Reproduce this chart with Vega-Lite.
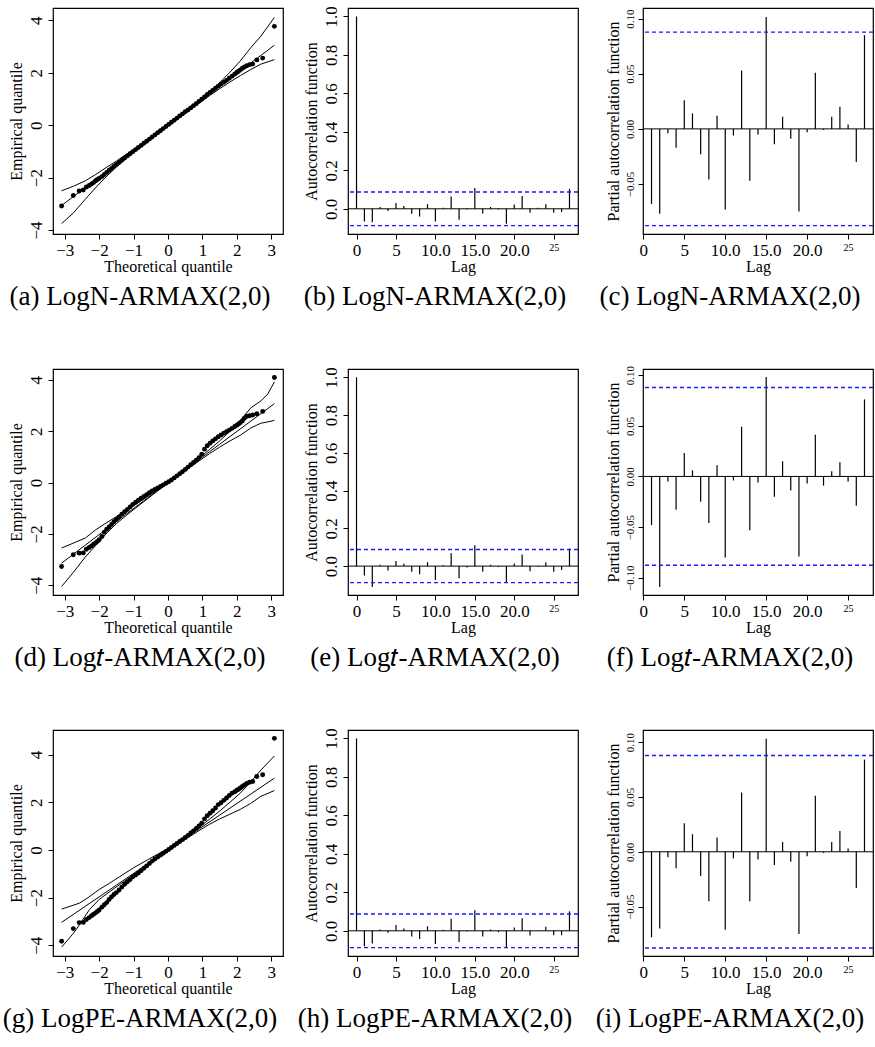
{
"$schema": "https://vega.github.io/schema/vega-lite/v6.json",
"padding": {"left": 2, "top": 5, "right": 0, "bottom": 0},
"background": "white",
"config": {
 "font": "Liberation Serif",
 "view": {"stroke": "black", "strokeWidth": 1.2},
 "axis": {"grid": false, "domain": false, "tickColor": "black", "labelColor": "black", "titleColor": "black", "labelFont": "Liberation Serif", "titleFont": "Liberation Serif", "labelFontSize": 17, "titleFontSize": 16, "titleFontWeight": "normal", "offset": 0, "tickSize": 5, "tickWidth": 1, "labelFlush": false, "labelOverlap": false, "labelPadding": 3},
 "axisY": {"labelAngle": -90, "labelAlign": "center", "labelBaseline": "bottom", "titlePadding": 3},
 "axisX": {"titlePadding": 0},
 "title": {"orient": "bottom", "fontSize": 27, "fontWeight": "normal", "font": "Liberation Serif", "color": "black", "offset": 10, "anchor": "middle", "dx": -28}
},
"datasets": {
 "ref": [{"k":"zero","v":0},{"k":"ci","v":0.0877},{"k":"ci","v":-0.0877}],
 "qq": [
{"p":"a","x":-3.09,"y":-3.08},{"p":"a","x":-2.75,"y":-2.68},{"p":"a","x":-2.58,"y":-2.51},{"p":"a","x":-2.46,"y":-2.47},{"p":"a","x":-2.37,"y":-2.36},{"p":"a","x":-2.29,"y":-2.30},{"p":"a","x":-2.22,"y":-2.24},{"p":"a","x":-2.16,"y":-2.19},{"p":"a","x":-2.1,"y":-2.12},{"p":"a","x":-2.05,"y":-2.07},
{"p":"a","x":-2.0,"y":-2.03},{"p":"a","x":-1.92,"y":-1.96},{"p":"a","x":-1.85,"y":-1.88},{"p":"a","x":-1.78,"y":-1.80},{"p":"a","x":-1.71,"y":-1.72},{"p":"a","x":-1.64,"y":-1.65},{"p":"a","x":-1.57,"y":-1.57},{"p":"a","x":-1.5,"y":-1.50},{"p":"a","x":-1.42,"y":-1.42},{"p":"a","x":-1.34,"y":-1.33},
{"p":"a","x":-1.26,"y":-1.25},{"p":"a","x":-1.18,"y":-1.17},{"p":"a","x":-1.1,"y":-1.09},{"p":"a","x":-1.02,"y":-1.01},{"p":"a","x":-0.94,"y":-0.93},{"p":"a","x":-0.86,"y":-0.85},{"p":"a","x":-0.78,"y":-0.77},{"p":"a","x":-0.7,"y":-0.69},{"p":"a","x":-0.62,"y":-0.61},{"p":"a","x":-0.54,"y":-0.53},
{"p":"a","x":-0.46,"y":-0.45},{"p":"a","x":-0.38,"y":-0.37},{"p":"a","x":-0.3,"y":-0.29},{"p":"a","x":-0.22,"y":-0.21},{"p":"a","x":-0.14,"y":-0.13},{"p":"a","x":-0.06,"y":-0.05},{"p":"a","x":0.02,"y":0.03},{"p":"a","x":0.1,"y":0.11},{"p":"a","x":0.18,"y":0.19},{"p":"a","x":0.26,"y":0.27},
{"p":"a","x":0.34,"y":0.35},{"p":"a","x":0.42,"y":0.43},{"p":"a","x":0.5,"y":0.51},{"p":"a","x":0.58,"y":0.58},{"p":"a","x":0.66,"y":0.66},{"p":"a","x":0.74,"y":0.74},{"p":"a","x":0.82,"y":0.82},{"p":"a","x":0.9,"y":0.91},{"p":"a","x":0.98,"y":0.99},{"p":"a","x":1.06,"y":1.08},
{"p":"a","x":1.14,"y":1.17},{"p":"a","x":1.22,"y":1.25},{"p":"a","x":1.3,"y":1.33},{"p":"a","x":1.38,"y":1.41},{"p":"a","x":1.46,"y":1.49},{"p":"a","x":1.54,"y":1.57},{"p":"a","x":1.62,"y":1.64},{"p":"a","x":1.7,"y":1.71},{"p":"a","x":1.78,"y":1.79},{"p":"a","x":1.86,"y":1.87},
{"p":"a","x":1.94,"y":1.95},{"p":"a","x":2.0,"y":2.01},{"p":"a","x":2.05,"y":2.06},{"p":"a","x":2.1,"y":2.11},{"p":"a","x":2.16,"y":2.17},{"p":"a","x":2.22,"y":2.22},{"p":"a","x":2.29,"y":2.27},{"p":"a","x":2.37,"y":2.31},{"p":"a","x":2.46,"y":2.33},{"p":"a","x":2.58,"y":2.49},
{"p":"a","x":2.75,"y":2.56},{"p":"a","x":3.09,"y":3.77},
{"p":"d","x":-3.09,"y":-3.27},{"p":"d","x":-2.75,"y":-2.81},{"p":"d","x":-2.58,"y":-2.75},{"p":"d","x":-2.46,"y":-2.74},{"p":"d","x":-2.37,"y":-2.60},{"p":"d","x":-2.29,"y":-2.53},{"p":"d","x":-2.22,"y":-2.47},{"p":"d","x":-2.16,"y":-2.40},{"p":"d","x":-2.1,"y":-2.35},{"p":"d","x":-2.05,"y":-2.29},
{"p":"d","x":-2.0,"y":-2.23},{"p":"d","x":-1.92,"y":-2.10},{"p":"d","x":-1.85,"y":-1.93},{"p":"d","x":-1.78,"y":-1.82},{"p":"d","x":-1.71,"y":-1.73},{"p":"d","x":-1.64,"y":-1.63},{"p":"d","x":-1.57,"y":-1.53},{"p":"d","x":-1.5,"y":-1.44},{"p":"d","x":-1.42,"y":-1.34},{"p":"d","x":-1.34,"y":-1.23},
{"p":"d","x":-1.26,"y":-1.14},{"p":"d","x":-1.18,"y":-1.05},{"p":"d","x":-1.1,"y":-0.95},{"p":"d","x":-1.02,"y":-0.85},{"p":"d","x":-0.94,"y":-0.77},{"p":"d","x":-0.86,"y":-0.69},{"p":"d","x":-0.78,"y":-0.61},{"p":"d","x":-0.7,"y":-0.54},{"p":"d","x":-0.62,"y":-0.47},{"p":"d","x":-0.54,"y":-0.40},
{"p":"d","x":-0.46,"y":-0.33},{"p":"d","x":-0.38,"y":-0.27},{"p":"d","x":-0.3,"y":-0.21},{"p":"d","x":-0.22,"y":-0.15},{"p":"d","x":-0.14,"y":-0.09},{"p":"d","x":-0.06,"y":-0.03},{"p":"d","x":0.02,"y":0.03},{"p":"d","x":0.1,"y":0.10},{"p":"d","x":0.18,"y":0.18},{"p":"d","x":0.26,"y":0.26},
{"p":"d","x":0.34,"y":0.34},{"p":"d","x":0.42,"y":0.42},{"p":"d","x":0.5,"y":0.51},{"p":"d","x":0.58,"y":0.60},{"p":"d","x":0.66,"y":0.69},{"p":"d","x":0.74,"y":0.78},{"p":"d","x":0.82,"y":0.87},{"p":"d","x":0.9,"y":0.97},{"p":"d","x":0.98,"y":1.10},{"p":"d","x":1.06,"y":1.30},
{"p":"d","x":1.14,"y":1.43},{"p":"d","x":1.22,"y":1.53},{"p":"d","x":1.3,"y":1.62},{"p":"d","x":1.38,"y":1.70},{"p":"d","x":1.46,"y":1.78},{"p":"d","x":1.54,"y":1.85},{"p":"d","x":1.62,"y":1.92},{"p":"d","x":1.7,"y":1.98},{"p":"d","x":1.78,"y":2.04},{"p":"d","x":1.86,"y":2.11},
{"p":"d","x":1.94,"y":2.18},{"p":"d","x":2.0,"y":2.23},{"p":"d","x":2.05,"y":2.28},{"p":"d","x":2.1,"y":2.33},{"p":"d","x":2.16,"y":2.40},{"p":"d","x":2.22,"y":2.50},{"p":"d","x":2.29,"y":2.58},{"p":"d","x":2.37,"y":2.60},{"p":"d","x":2.46,"y":2.63},{"p":"d","x":2.58,"y":2.68},
{"p":"d","x":2.75,"y":2.77},{"p":"d","x":3.09,"y":4.09},
{"p":"g","x":-3.09,"y":-3.83},{"p":"g","x":-2.75,"y":-3.30},{"p":"g","x":-2.58,"y":-3.05},{"p":"g","x":-2.46,"y":-3.04},{"p":"g","x":-2.37,"y":-2.92},{"p":"g","x":-2.29,"y":-2.84},{"p":"g","x":-2.22,"y":-2.76},{"p":"g","x":-2.16,"y":-2.70},{"p":"g","x":-2.1,"y":-2.64},{"p":"g","x":-2.05,"y":-2.58},
{"p":"g","x":-2.0,"y":-2.52},{"p":"g","x":-1.92,"y":-2.40},{"p":"g","x":-1.85,"y":-2.30},{"p":"g","x":-1.78,"y":-2.21},{"p":"g","x":-1.71,"y":-2.08},{"p":"g","x":-1.64,"y":-1.97},{"p":"g","x":-1.57,"y":-1.87},{"p":"g","x":-1.5,"y":-1.79},{"p":"g","x":-1.42,"y":-1.68},{"p":"g","x":-1.34,"y":-1.56},
{"p":"g","x":-1.26,"y":-1.44},{"p":"g","x":-1.18,"y":-1.34},{"p":"g","x":-1.1,"y":-1.24},{"p":"g","x":-1.02,"y":-1.13},{"p":"g","x":-0.94,"y":-1.05},{"p":"g","x":-0.86,"y":-0.97},{"p":"g","x":-0.78,"y":-0.87},{"p":"g","x":-0.7,"y":-0.77},{"p":"g","x":-0.62,"y":-0.67},{"p":"g","x":-0.54,"y":-0.57},
{"p":"g","x":-0.46,"y":-0.47},{"p":"g","x":-0.38,"y":-0.38},{"p":"g","x":-0.3,"y":-0.30},{"p":"g","x":-0.22,"y":-0.22},{"p":"g","x":-0.14,"y":-0.14},{"p":"g","x":-0.06,"y":-0.06},{"p":"g","x":0.02,"y":0.02},{"p":"g","x":0.1,"y":0.10},{"p":"g","x":0.18,"y":0.19},{"p":"g","x":0.26,"y":0.27},
{"p":"g","x":0.34,"y":0.35},{"p":"g","x":0.42,"y":0.43},{"p":"g","x":0.5,"y":0.52},{"p":"g","x":0.58,"y":0.61},{"p":"g","x":0.66,"y":0.71},{"p":"g","x":0.74,"y":0.80},{"p":"g","x":0.82,"y":0.90},{"p":"g","x":0.9,"y":1.00},{"p":"g","x":0.98,"y":1.12},{"p":"g","x":1.06,"y":1.30},
{"p":"g","x":1.14,"y":1.43},{"p":"g","x":1.22,"y":1.54},{"p":"g","x":1.3,"y":1.64},{"p":"g","x":1.38,"y":1.76},{"p":"g","x":1.46,"y":1.90},{"p":"g","x":1.54,"y":1.98},{"p":"g","x":1.62,"y":2.08},{"p":"g","x":1.7,"y":2.18},{"p":"g","x":1.78,"y":2.28},{"p":"g","x":1.86,"y":2.38},
{"p":"g","x":1.94,"y":2.44},{"p":"g","x":2.0,"y":2.50},{"p":"g","x":2.05,"y":2.54},{"p":"g","x":2.1,"y":2.60},{"p":"g","x":2.16,"y":2.66},{"p":"g","x":2.22,"y":2.73},{"p":"g","x":2.29,"y":2.79},{"p":"g","x":2.37,"y":2.84},{"p":"g","x":2.46,"y":2.87},{"p":"g","x":2.58,"y":3.08},
{"p":"g","x":2.75,"y":3.15},{"p":"g","x":3.09,"y":4.68}
 ],
 "env": [
{"p":"a","s":"u","x":-3.09,"y":-2.50},{"p":"a","s":"u","x":-2.75,"y":-2.33},{"p":"a","s":"u","x":-2.4,"y":-2.12},{"p":"a","s":"u","x":-2.1,"y":-1.88},{"p":"a","s":"u","x":-1.8,"y":-1.62},{"p":"a","s":"u","x":-1.5,"y":-1.37},{"p":"a","s":"u","x":-1.2,"y":-1.10},{"p":"a","s":"u","x":-0.9,"y":-0.83},{"p":"a","s":"u","x":-0.6,"y":-0.55},{"p":"a","s":"u","x":-0.3,"y":-0.26},{"p":"a","s":"u","x":0,"y":0.03},{"p":"a","s":"u","x":0.3,"y":0.33},{"p":"a","s":"u","x":0.6,"y":0.64},{"p":"a","s":"u","x":0.9,"y":0.95},{"p":"a","s":"u","x":1.2,"y":1.27},{"p":"a","s":"u","x":1.5,"y":1.62},{"p":"a","s":"u","x":1.8,"y":2.02},{"p":"a","s":"u","x":2.1,"y":2.45},{"p":"a","s":"u","x":2.4,"y":2.95},{"p":"a","s":"u","x":2.7,"y":3.40},{"p":"a","s":"u","x":3.09,"y":4.11},
{"p":"a","s":"l","x":-3.09,"y":-3.75},{"p":"a","s":"l","x":-2.75,"y":-3.35},{"p":"a","s":"l","x":-2.4,"y":-2.82},{"p":"a","s":"l","x":-2.1,"y":-2.38},{"p":"a","s":"l","x":-1.8,"y":-1.97},{"p":"a","s":"l","x":-1.5,"y":-1.60},{"p":"a","s":"l","x":-1.2,"y":-1.26},{"p":"a","s":"l","x":-0.9,"y":-0.95},{"p":"a","s":"l","x":-0.6,"y":-0.64},{"p":"a","s":"l","x":-0.3,"y":-0.33},{"p":"a","s":"l","x":0,"y":-0.03},{"p":"a","s":"l","x":0.3,"y":0.26},{"p":"a","s":"l","x":0.6,"y":0.55},{"p":"a","s":"l","x":0.9,"y":0.84},{"p":"a","s":"l","x":1.2,"y":1.12},{"p":"a","s":"l","x":1.5,"y":1.39},{"p":"a","s":"l","x":1.8,"y":1.65},{"p":"a","s":"l","x":2.1,"y":1.89},{"p":"a","s":"l","x":2.4,"y":2.12},{"p":"a","s":"l","x":2.7,"y":2.33},{"p":"a","s":"l","x":3.09,"y":2.50},
{"p":"a","s":"m","x":-3.09,"y":-3.06},{"p":"a","s":"m","x":-1.5,"y":-1.49},{"p":"a","s":"m","x":0,"y":0},{"p":"a","s":"m","x":1.5,"y":1.48},{"p":"a","s":"m","x":3.09,"y":3.05},
{"p":"d","s":"u","x":-3.09,"y":-2.55},{"p":"d","s":"u","x":-2.75,"y":-2.36},{"p":"d","s":"u","x":-2.4,"y":-2.16},{"p":"d","s":"u","x":-2.1,"y":-1.84},{"p":"d","s":"u","x":-1.8,"y":-1.58},{"p":"d","s":"u","x":-1.5,"y":-1.33},{"p":"d","s":"u","x":-1.2,"y":-1.08},{"p":"d","s":"u","x":-0.9,"y":-0.82},{"p":"d","s":"u","x":-0.6,"y":-0.55},{"p":"d","s":"u","x":-0.3,"y":-0.27},{"p":"d","s":"u","x":0,"y":0.03},{"p":"d","s":"u","x":0.3,"y":0.33},{"p":"d","s":"u","x":0.6,"y":0.64},{"p":"d","s":"u","x":0.9,"y":0.95},{"p":"d","s":"u","x":1.2,"y":1.28},{"p":"d","s":"u","x":1.5,"y":1.62},{"p":"d","s":"u","x":1.8,"y":2.00},{"p":"d","s":"u","x":2.1,"y":2.42},{"p":"d","s":"u","x":2.4,"y":2.90},{"p":"d","s":"u","x":2.7,"y":3.18},{"p":"d","s":"u","x":2.9,"y":3.45},{"p":"d","s":"u","x":3.09,"y":3.92},
{"p":"d","s":"l","x":-3.09,"y":-4.05},{"p":"d","s":"l","x":-2.75,"y":-3.50},{"p":"d","s":"l","x":-2.4,"y":-2.90},{"p":"d","s":"l","x":-2.1,"y":-2.45},{"p":"d","s":"l","x":-1.8,"y":-2.00},{"p":"d","s":"l","x":-1.5,"y":-1.60},{"p":"d","s":"l","x":-1.2,"y":-1.27},{"p":"d","s":"l","x":-0.9,"y":-0.95},{"p":"d","s":"l","x":-0.6,"y":-0.64},{"p":"d","s":"l","x":-0.3,"y":-0.33},{"p":"d","s":"l","x":0,"y":-0.03},{"p":"d","s":"l","x":0.3,"y":0.26},{"p":"d","s":"l","x":0.6,"y":0.55},{"p":"d","s":"l","x":0.9,"y":0.84},{"p":"d","s":"l","x":1.2,"y":1.12},{"p":"d","s":"l","x":1.5,"y":1.38},{"p":"d","s":"l","x":1.8,"y":1.62},{"p":"d","s":"l","x":2.1,"y":1.84},{"p":"d","s":"l","x":2.4,"y":2.12},{"p":"d","s":"l","x":2.7,"y":2.31},{"p":"d","s":"l","x":2.9,"y":2.36},{"p":"d","s":"l","x":3.09,"y":2.42},
{"p":"d","s":"m","x":-3.09,"y":-3.14},{"p":"d","s":"m","x":-1.5,"y":-1.52},{"p":"d","s":"m","x":0,"y":0},{"p":"d","s":"m","x":1.5,"y":1.49},{"p":"d","s":"m","x":3.09,"y":3.07},
{"p":"g","s":"u","x":-3.09,"y":-2.48},{"p":"g","s":"u","x":-2.75,"y":-2.32},{"p":"g","s":"u","x":-2.57,"y":-2.23},{"p":"g","s":"u","x":-2.3,"y":-1.98},{"p":"g","s":"u","x":-2.0,"y":-1.66},{"p":"g","s":"u","x":-1.7,"y":-1.40},{"p":"g","s":"u","x":-1.4,"y":-1.12},{"p":"g","s":"u","x":-1.0,"y":-0.75},{"p":"g","s":"u","x":-0.6,"y":-0.42},{"p":"g","s":"u","x":-0.3,"y":-0.18},{"p":"g","s":"u","x":0,"y":0.05},{"p":"g","s":"u","x":0.3,"y":0.34},{"p":"g","s":"u","x":0.6,"y":0.64},{"p":"g","s":"u","x":0.9,"y":0.95},{"p":"g","s":"u","x":1.2,"y":1.28},{"p":"g","s":"u","x":1.5,"y":1.63},{"p":"g","s":"u","x":1.8,"y":2.00},{"p":"g","s":"u","x":2.1,"y":2.38},{"p":"g","s":"u","x":2.4,"y":2.85},{"p":"g","s":"u","x":2.7,"y":3.35},{"p":"g","s":"u","x":3.09,"y":3.94},
{"p":"g","s":"l","x":-3.09,"y":-4.08},{"p":"g","s":"l","x":-2.75,"y":-3.50},{"p":"g","s":"l","x":-2.67,"y":-3.35},{"p":"g","s":"l","x":-2.28,"y":-2.50},{"p":"g","s":"l","x":-2.0,"y":-2.08},{"p":"g","s":"l","x":-1.7,"y":-1.76},{"p":"g","s":"l","x":-1.4,"y":-1.45},{"p":"g","s":"l","x":-1.1,"y":-1.14},{"p":"g","s":"l","x":-0.8,"y":-0.84},{"p":"g","s":"l","x":-0.5,"y":-0.54},{"p":"g","s":"l","x":-0.2,"y":-0.23},{"p":"g","s":"l","x":0,"y":-0.03},{"p":"g","s":"l","x":0.3,"y":0.25},{"p":"g","s":"l","x":0.6,"y":0.53},{"p":"g","s":"l","x":0.9,"y":0.81},{"p":"g","s":"l","x":1.2,"y":1.07},{"p":"g","s":"l","x":1.5,"y":1.30},{"p":"g","s":"l","x":1.8,"y":1.50},{"p":"g","s":"l","x":2.1,"y":1.70},{"p":"g","s":"l","x":2.4,"y":1.95},{"p":"g","s":"l","x":2.7,"y":2.25},{"p":"g","s":"l","x":3.09,"y":2.49},
{"p":"g","s":"m","x":-3.09,"y":-3.04},{"p":"g","s":"m","x":-1.5,"y":-1.48},{"p":"g","s":"m","x":0,"y":0},{"p":"g","s":"m","x":1.5,"y":1.46},{"p":"g","s":"m","x":3.09,"y":3.01}
 ],
 "cf": [
{"p":"b","lag":0,"v":1.0},{"p":"b","lag":1,"v":-0.066},{"p":"b","lag":2,"v":-0.070},{"p":"b","lag":3,"v":0.009},{"p":"b","lag":4,"v":-0.012},{"p":"b","lag":5,"v":0.030},{"p":"b","lag":6,"v":0.014},{"p":"b","lag":7,"v":-0.026},{"p":"b","lag":8,"v":-0.040},{"p":"b","lag":9,"v":0.024},{"p":"b","lag":10,"v":-0.066},{"p":"b","lag":11,"v":0.005},{"p":"b","lag":12,"v":0.064},{"p":"b","lag":13,"v":-0.057},{"p":"b","lag":14,"v":-0.003},{"p":"b","lag":15,"v":0.108},{"p":"b","lag":16,"v":-0.024},{"p":"b","lag":17,"v":0.009},{"p":"b","lag":18,"v":-0.004},{"p":"b","lag":19,"v":-0.078},{"p":"b","lag":20,"v":0.023},{"p":"b","lag":21,"v":0.066},{"p":"b","lag":22,"v":-0.021},{"p":"b","lag":23,"v":0.005},{"p":"b","lag":24,"v":0.024},{"p":"b","lag":25,"v":-0.021},{"p":"b","lag":26,"v":-0.017},{"p":"b","lag":27,"v":0.104},
{"p":"e","lag":0,"v":1.0},{"p":"e","lag":1,"v":-0.050},{"p":"e","lag":2,"v":-0.110},{"p":"e","lag":3,"v":0.007},{"p":"e","lag":4,"v":-0.023},{"p":"e","lag":5,"v":0.027},{"p":"e","lag":6,"v":0.012},{"p":"e","lag":7,"v":-0.030},{"p":"e","lag":8,"v":-0.043},{"p":"e","lag":9,"v":0.021},{"p":"e","lag":10,"v":-0.073},{"p":"e","lag":11,"v":0.004},{"p":"e","lag":12,"v":0.068},{"p":"e","lag":13,"v":-0.064},{"p":"e","lag":14,"v":-0.007},{"p":"e","lag":15,"v":0.110},{"p":"e","lag":16,"v":-0.030},{"p":"e","lag":17,"v":0.007},{"p":"e","lag":18,"v":-0.005},{"p":"e","lag":19,"v":-0.089},{"p":"e","lag":20,"v":0.014},{"p":"e","lag":21,"v":0.062},{"p":"e","lag":22,"v":-0.027},{"p":"e","lag":23,"v":-0.004},{"p":"e","lag":24,"v":0.020},{"p":"e","lag":25,"v":-0.030},{"p":"e","lag":26,"v":-0.020},{"p":"e","lag":27,"v":0.093},
{"p":"h","lag":0,"v":1.0},{"p":"h","lag":1,"v":-0.080},{"p":"h","lag":2,"v":-0.066},{"p":"h","lag":3,"v":0.007},{"p":"h","lag":4,"v":-0.010},{"p":"h","lag":5,"v":0.030},{"p":"h","lag":6,"v":0.012},{"p":"h","lag":7,"v":-0.030},{"p":"h","lag":8,"v":-0.042},{"p":"h","lag":9,"v":0.023},{"p":"h","lag":10,"v":-0.068},{"p":"h","lag":11,"v":0.005},{"p":"h","lag":12,"v":0.063},{"p":"h","lag":13,"v":-0.058},{"p":"h","lag":14,"v":-0.004},{"p":"h","lag":15,"v":0.107},{"p":"h","lag":16,"v":-0.030},{"p":"h","lag":17,"v":0.007},{"p":"h","lag":18,"v":-0.007},{"p":"h","lag":19,"v":-0.084},{"p":"h","lag":20,"v":0.017},{"p":"h","lag":21,"v":0.065},{"p":"h","lag":22,"v":-0.024},{"p":"h","lag":23,"v":0.002},{"p":"h","lag":24,"v":0.021},{"p":"h","lag":25,"v":-0.023},{"p":"h","lag":26,"v":-0.023},{"p":"h","lag":27,"v":0.101},
{"p":"c","lag":1,"v":-0.068},{"p":"c","lag":2,"v":-0.077},{"p":"c","lag":3,"v":-0.004},{"p":"c","lag":4,"v":-0.017},{"p":"c","lag":5,"v":0.026},{"p":"c","lag":6,"v":0.014},{"p":"c","lag":7,"v":-0.023},{"p":"c","lag":8,"v":-0.046},{"p":"c","lag":9,"v":0.012},{"p":"c","lag":10,"v":-0.073},{"p":"c","lag":11,"v":-0.006},{"p":"c","lag":12,"v":0.053},{"p":"c","lag":13,"v":-0.047},{"p":"c","lag":14,"v":-0.005},{"p":"c","lag":15,"v":0.1015},{"p":"c","lag":16,"v":-0.014},{"p":"c","lag":17,"v":0.011},{"p":"c","lag":18,"v":-0.009},{"p":"c","lag":19,"v":-0.075},{"p":"c","lag":20,"v":-0.003},{"p":"c","lag":21,"v":0.051},{"p":"c","lag":22,"v":-0.001},{"p":"c","lag":23,"v":0.011},{"p":"c","lag":24,"v":0.020},{"p":"c","lag":25,"v":0.004},{"p":"c","lag":26,"v":-0.030},{"p":"c","lag":27,"v":0.085},
{"p":"f","lag":1,"v":-0.048},{"p":"f","lag":2,"v":-0.109},{"p":"f","lag":3,"v":-0.005},{"p":"f","lag":4,"v":-0.033},{"p":"f","lag":5,"v":0.023},{"p":"f","lag":6,"v":0.006},{"p":"f","lag":7,"v":-0.025},{"p":"f","lag":8,"v":-0.046},{"p":"f","lag":9,"v":0.011},{"p":"f","lag":10,"v":-0.080},{"p":"f","lag":11,"v":-0.004},{"p":"f","lag":12,"v":0.049},{"p":"f","lag":13,"v":-0.053},{"p":"f","lag":14,"v":-0.006},{"p":"f","lag":15,"v":0.098},{"p":"f","lag":16,"v":-0.020},{"p":"f","lag":17,"v":0.015},{"p":"f","lag":18,"v":-0.014},{"p":"f","lag":19,"v":-0.079},{"p":"f","lag":20,"v":-0.007},{"p":"f","lag":21,"v":0.041},{"p":"f","lag":22,"v":-0.009},{"p":"f","lag":23,"v":0.005},{"p":"f","lag":24,"v":0.014},{"p":"f","lag":25,"v":-0.005},{"p":"f","lag":26,"v":-0.029},{"p":"f","lag":27,"v":0.076},
{"p":"i","lag":1,"v":-0.078},{"p":"i","lag":2,"v":-0.070},{"p":"i","lag":3,"v":-0.005},{"p":"i","lag":4,"v":-0.015},{"p":"i","lag":5,"v":0.026},{"p":"i","lag":6,"v":0.016},{"p":"i","lag":7,"v":-0.022},{"p":"i","lag":8,"v":-0.045},{"p":"i","lag":9,"v":0.013},{"p":"i","lag":10,"v":-0.071},{"p":"i","lag":11,"v":-0.006},{"p":"i","lag":12,"v":0.054},{"p":"i","lag":13,"v":-0.045},{"p":"i","lag":14,"v":-0.007},{"p":"i","lag":15,"v":0.103},{"p":"i","lag":16,"v":-0.012},{"p":"i","lag":17,"v":0.009},{"p":"i","lag":18,"v":-0.009},{"p":"i","lag":19,"v":-0.075},{"p":"i","lag":20,"v":-0.004},{"p":"i","lag":21,"v":0.051},{"p":"i","lag":22,"v":-0.001},{"p":"i","lag":23,"v":0.009},{"p":"i","lag":24,"v":0.019},{"p":"i","lag":25,"v":0.003},{"p":"i","lag":26,"v":-0.033},{"p":"i","lag":27,"v":0.084}
 ]
},
"bounds": "flush",
"columns": 3,
"spacing": {"row": 135, "column": 65},
"concat": [
 {"width": 230, "height": 226, "title": "(a) LogN-ARMAX(2,0)",
  "encoding": {
   "x": {"field": "x", "type": "quantitative", "scale": {"domain": [-3.34, 3.34], "nice": false, "zero": false}, "axis": {"values": [-3,-2,-1,0,1,2,3], "title": "Theoretical quantile"}},
   "y": {"field": "y", "type": "quantitative", "scale": {"domain": [-4.15, 4.47], "nice": false, "zero": false}, "axis": {"values": [-4,-2,0,2,4], "title": "Empirical quantile"}}},
  "layer": [
   {"data": {"name": "env"}, "transform": [{"filter": "datum.p == 'a'"}], "mark": {"type": "line", "color": "black", "strokeWidth": 1}, "encoding": {"detail": {"field": "s"}}},
   {"data": {"name": "qq"}, "transform": [{"filter": "datum.p == 'a'"}], "mark": {"type": "circle", "color": "black", "size": 24, "opacity": 1}}
  ]},
 {"width": 230, "height": 226, "title": "(b) LogN-ARMAX(2,0)",
  "encoding": {"y": {"field": "v", "type": "quantitative", "scale": {"domain": [-0.131, 1.044], "nice": false, "zero": false}, "axis": {"values": [0,0.2,0.4,0.6,0.8,1.0], "format": ".1f", "title": "Autocorrelation function"}}},
  "layer": [
   {"data": {"name": "ref"}, "transform": [{"filter": "datum.k == 'zero'"}], "mark": {"type": "rule", "color": "black", "strokeWidth": 1}},
   {"data": {"name": "cf"}, "transform": [{"filter": "datum.p == 'b'"}], "mark": {"type": "rule", "color": "black", "strokeWidth": 1.2},
    "encoding": {"x": {"field": "lag", "type": "quantitative", "scale": {"domain": [-1.08, 28.08], "nice": false, "zero": false}, "axis": {"values": [0,5,10,15,20,25], "title": "Lag", "labelExpr": "datum.value == 10 ? '10.0' : datum.value == 15 ? '15.0' : datum.value == 20 ? '20.0' : datum.label", "labelFontSize": {"condition": {"test": "datum.value == 25", "value": 10}, "value": 17}}}, "y2": {"datum": 0}}},
   {"data": {"name": "ref"}, "transform": [{"filter": "datum.k == 'ci'"}], "mark": {"type": "rule", "color": "#1a1aff", "strokeWidth": 1.4, "strokeDash": [4, 3]}}
  ]},
 {"width": 230, "height": 226, "title": "(c) LogN-ARMAX(2,0)",
  "encoding": {"y": {"field": "v", "type": "quantitative", "scale": {"domain": [-0.0953, 0.1096], "nice": false, "zero": false}, "axis": {"values": [-0.05,0,0.05,0.1], "format": ".2f", "labelFontSize": 11, "title": "Partial autocorrelation function"}}},
  "layer": [
   {"data": {"name": "ref"}, "transform": [{"filter": "datum.k == 'zero'"}], "mark": {"type": "rule", "color": "black", "strokeWidth": 1}},
   {"data": {"name": "cf"}, "transform": [{"filter": "datum.p == 'c'"}], "mark": {"type": "rule", "color": "black", "strokeWidth": 1.2},
    "encoding": {"x": {"field": "lag", "type": "quantitative", "scale": {"domain": [-0.04, 28.04], "nice": false, "zero": false}, "axis": {"values": [0,5,10,15,20,25], "title": "Lag", "labelExpr": "datum.value == 10 ? '10.0' : datum.value == 15 ? '15.0' : datum.value == 20 ? '20.0' : datum.label", "labelFontSize": {"condition": {"test": "datum.value == 25", "value": 10}, "value": 17}}}, "y2": {"datum": 0}}},
   {"data": {"name": "ref"}, "transform": [{"filter": "datum.k == 'ci'"}], "mark": {"type": "rule", "color": "#1a1aff", "strokeWidth": 1.4, "strokeDash": [4, 3]}}
  ]},
 {"width": 230, "height": 226, "title": "(d) Log𝑡-ARMAX(2,0)",
  "encoding": {
   "x": {"field": "x", "type": "quantitative", "scale": {"domain": [-3.34, 3.34], "nice": false, "zero": false}, "axis": {"values": [-3,-2,-1,0,1,2,3], "title": "Theoretical quantile"}},
   "y": {"field": "y", "type": "quantitative", "scale": {"domain": [-4.38, 4.42], "nice": false, "zero": false}, "axis": {"values": [-4,-2,0,2,4], "title": "Empirical quantile"}}},
  "layer": [
   {"data": {"name": "env"}, "transform": [{"filter": "datum.p == 'd'"}], "mark": {"type": "line", "color": "black", "strokeWidth": 1}, "encoding": {"detail": {"field": "s"}}},
   {"data": {"name": "qq"}, "transform": [{"filter": "datum.p == 'd'"}], "mark": {"type": "circle", "color": "black", "size": 24, "opacity": 1}}
  ]},
 {"width": 230, "height": 226, "title": "(e) Log𝑡-ARMAX(2,0)",
  "encoding": {"y": {"field": "v", "type": "quantitative", "scale": {"domain": [-0.153, 1.044], "nice": false, "zero": false}, "axis": {"values": [0,0.2,0.4,0.6,0.8,1.0], "format": ".1f", "title": "Autocorrelation function"}}},
  "layer": [
   {"data": {"name": "ref"}, "transform": [{"filter": "datum.k == 'zero'"}], "mark": {"type": "rule", "color": "black", "strokeWidth": 1}},
   {"data": {"name": "cf"}, "transform": [{"filter": "datum.p == 'e'"}], "mark": {"type": "rule", "color": "black", "strokeWidth": 1.2},
    "encoding": {"x": {"field": "lag", "type": "quantitative", "scale": {"domain": [-1.08, 28.08], "nice": false, "zero": false}, "axis": {"values": [0,5,10,15,20,25], "title": "Lag", "labelExpr": "datum.value == 10 ? '10.0' : datum.value == 15 ? '15.0' : datum.value == 20 ? '20.0' : datum.label", "labelFontSize": {"condition": {"test": "datum.value == 25", "value": 10}, "value": 17}}}, "y2": {"datum": 0}}},
   {"data": {"name": "ref"}, "transform": [{"filter": "datum.k == 'ci'"}], "mark": {"type": "rule", "color": "#1a1aff", "strokeWidth": 1.4, "strokeDash": [4, 3]}}
  ]},
 {"width": 230, "height": 226, "title": "(f) Log𝑡-ARMAX(2,0)",
  "encoding": {"y": {"field": "v", "type": "quantitative", "scale": {"domain": [-0.117, 0.106], "nice": false, "zero": false}, "axis": {"values": [-0.1,-0.05,0,0.05,0.1], "format": ".2f", "labelFontSize": 11, "title": "Partial autocorrelation function"}}},
  "layer": [
   {"data": {"name": "ref"}, "transform": [{"filter": "datum.k == 'zero'"}], "mark": {"type": "rule", "color": "black", "strokeWidth": 1}},
   {"data": {"name": "cf"}, "transform": [{"filter": "datum.p == 'f'"}], "mark": {"type": "rule", "color": "black", "strokeWidth": 1.2},
    "encoding": {"x": {"field": "lag", "type": "quantitative", "scale": {"domain": [-0.04, 28.04], "nice": false, "zero": false}, "axis": {"values": [0,5,10,15,20,25], "title": "Lag", "labelExpr": "datum.value == 10 ? '10.0' : datum.value == 15 ? '15.0' : datum.value == 20 ? '20.0' : datum.label", "labelFontSize": {"condition": {"test": "datum.value == 25", "value": 10}, "value": 17}}}, "y2": {"datum": 0}}},
   {"data": {"name": "ref"}, "transform": [{"filter": "datum.k == 'ci'"}], "mark": {"type": "rule", "color": "#1a1aff", "strokeWidth": 1.4, "strokeDash": [4, 3]}}
  ]},
 {"width": 230, "height": 226, "title": "(g) LogPE-ARMAX(2,0)",
  "encoding": {
   "x": {"field": "x", "type": "quantitative", "scale": {"domain": [-3.34, 3.34], "nice": false, "zero": false}, "axis": {"values": [-3,-2,-1,0,1,2,3], "title": "Theoretical quantile"}},
   "y": {"field": "y", "type": "quantitative", "scale": {"domain": [-4.45, 5.03], "nice": false, "zero": false}, "axis": {"values": [-4,-2,0,2,4], "title": "Empirical quantile"}}},
  "layer": [
   {"data": {"name": "env"}, "transform": [{"filter": "datum.p == 'g'"}], "mark": {"type": "line", "color": "black", "strokeWidth": 1}, "encoding": {"detail": {"field": "s"}}},
   {"data": {"name": "qq"}, "transform": [{"filter": "datum.p == 'g'"}], "mark": {"type": "circle", "color": "black", "size": 24, "opacity": 1}}
  ]},
 {"width": 230, "height": 226, "title": "(h) LogPE-ARMAX(2,0)",
  "encoding": {"y": {"field": "v", "type": "quantitative", "scale": {"domain": [-0.131, 1.044], "nice": false, "zero": false}, "axis": {"values": [0,0.2,0.4,0.6,0.8,1.0], "format": ".1f", "title": "Autocorrelation function"}}},
  "layer": [
   {"data": {"name": "ref"}, "transform": [{"filter": "datum.k == 'zero'"}], "mark": {"type": "rule", "color": "black", "strokeWidth": 1}},
   {"data": {"name": "cf"}, "transform": [{"filter": "datum.p == 'h'"}], "mark": {"type": "rule", "color": "black", "strokeWidth": 1.2},
    "encoding": {"x": {"field": "lag", "type": "quantitative", "scale": {"domain": [-1.08, 28.08], "nice": false, "zero": false}, "axis": {"values": [0,5,10,15,20,25], "title": "Lag", "labelExpr": "datum.value == 10 ? '10.0' : datum.value == 15 ? '15.0' : datum.value == 20 ? '20.0' : datum.label", "labelFontSize": {"condition": {"test": "datum.value == 25", "value": 10}, "value": 17}}}, "y2": {"datum": 0}}},
   {"data": {"name": "ref"}, "transform": [{"filter": "datum.k == 'ci'"}], "mark": {"type": "rule", "color": "#1a1aff", "strokeWidth": 1.4, "strokeDash": [4, 3]}}
  ]},
 {"width": 230, "height": 226, "title": "(i) LogPE-ARMAX(2,0)",
  "encoding": {"y": {"field": "v", "type": "quantitative", "scale": {"domain": [-0.095, 0.111], "nice": false, "zero": false}, "axis": {"values": [-0.05,0,0.05,0.1], "format": ".2f", "labelFontSize": 11, "title": "Partial autocorrelation function"}}},
  "layer": [
   {"data": {"name": "ref"}, "transform": [{"filter": "datum.k == 'zero'"}], "mark": {"type": "rule", "color": "black", "strokeWidth": 1}},
   {"data": {"name": "cf"}, "transform": [{"filter": "datum.p == 'i'"}], "mark": {"type": "rule", "color": "black", "strokeWidth": 1.2},
    "encoding": {"x": {"field": "lag", "type": "quantitative", "scale": {"domain": [-0.04, 28.04], "nice": false, "zero": false}, "axis": {"values": [0,5,10,15,20,25], "title": "Lag", "labelExpr": "datum.value == 10 ? '10.0' : datum.value == 15 ? '15.0' : datum.value == 20 ? '20.0' : datum.label", "labelFontSize": {"condition": {"test": "datum.value == 25", "value": 10}, "value": 17}}}, "y2": {"datum": 0}}},
   {"data": {"name": "ref"}, "transform": [{"filter": "datum.k == 'ci'"}], "mark": {"type": "rule", "color": "#1a1aff", "strokeWidth": 1.4, "strokeDash": [4, 3]}}
  ]}
]
}
